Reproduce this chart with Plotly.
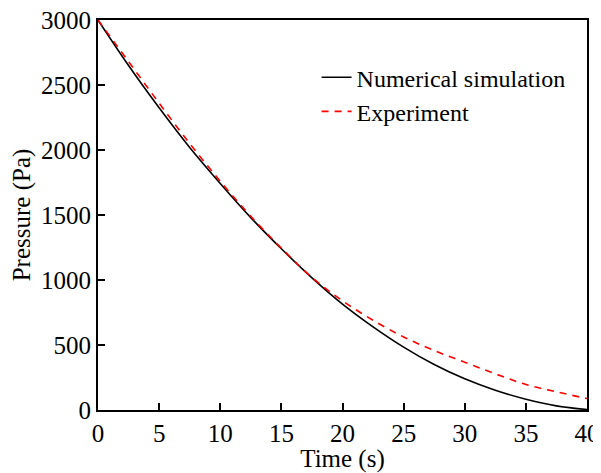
import plotly.graph_objects as go

time_s = [0, 2.5, 5, 7.5, 10, 12.5, 15, 17.5, 20, 22.5, 25, 27.5, 30, 32.5, 35, 37.5, 40]
simulation_pa = [3000, 2650, 2325, 2020, 1743, 1480, 1240, 1017, 815, 640, 484, 350, 240, 152, 83, 32, 3]
experiment_pa = [3000, 2680, 2360, 2050, 1760, 1490, 1245, 1020, 840, 690, 562, 457, 368, 278, 196, 140, 88]

x_ticks = [0, 5, 10, 15, 20, 25, 30, 35, 40]
y_ticks = [0, 500, 1000, 1500, 2000, 2500, 3000]

font_family = "Liberation Serif, Times New Roman, serif"

fig = go.Figure()
fig.add_trace(go.Scatter(x=time_s, y=simulation_pa, mode="lines", name="Numerical simulation",
                         line=dict(color="black", width=1.6, shape="spline")))
fig.add_trace(go.Scatter(x=time_s, y=experiment_pa, mode="lines", name="Experiment",
                         line=dict(color="#ff0000", width=1.6, dash="7px,6px", shape="spline")))

axis_common = dict(showgrid=False, zeroline=False, showline=True, linecolor="black", linewidth=2,
                   mirror=True, ticks="inside", ticklen=7, tickwidth=1.5, tickcolor="black",
                   automargin=False, ticklabeloverflow="allow",
                   tickfont=dict(family=font_family, size=25, color="black"))

# page body adds an 8px offset, so the figure is sized to fit the remaining viewport
fig.update_layout(
    width=593, height=465,
    margin=dict(l=90, r=14, t=12, b=63),
    paper_bgcolor="white", plot_bgcolor="white",
    font=dict(family=font_family, size=25, color="black"),
    xaxis=dict(range=[0, 40], tickvals=x_ticks, title=dict(text="Time (s)", standoff=7,
               font=dict(family=font_family, size=25)), **axis_common),
    yaxis=dict(range=[0, 3000], tickvals=y_ticks, title=dict(text="Pressure (Pa)", standoff=14,
               font=dict(family=font_family, size=25)), **axis_common),
    legend=dict(x=0.447, y=0.91, xanchor="left", yanchor="top", bgcolor="rgba(0,0,0,0)",
                font=dict(family=font_family, size=24), tracegroupgap=0),
    showlegend=True,
)

fig.write_html("out.html")
